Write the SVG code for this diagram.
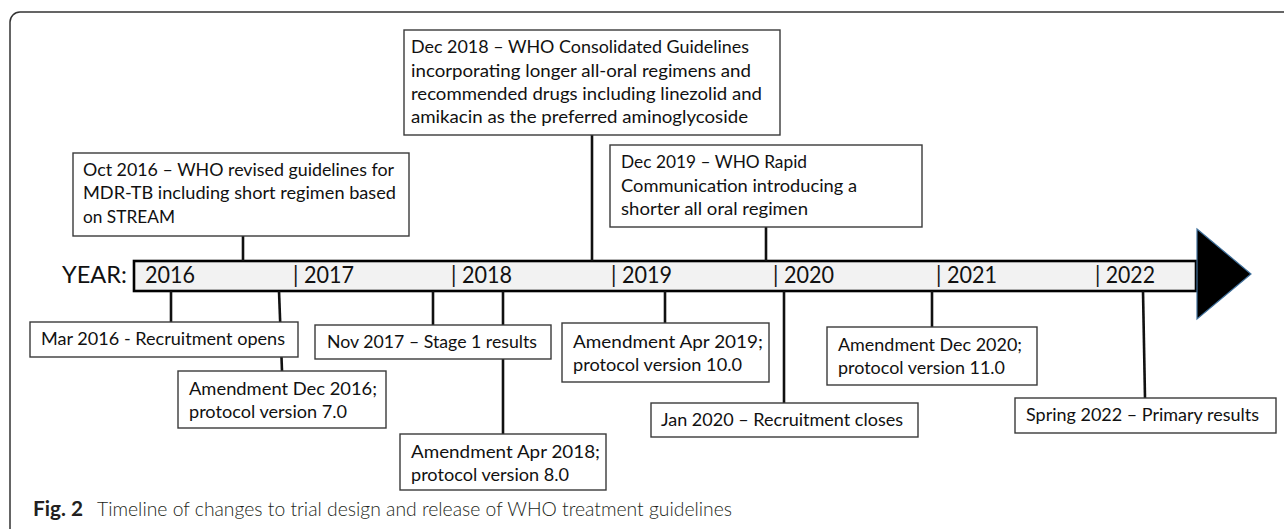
<svg xmlns="http://www.w3.org/2000/svg" width="1284" height="529" viewBox="0 0 1284 529">
<style>
.box{fill:#fff;stroke:#3a3a3a;stroke-width:1.4}
.t{font-family:Lato,"Liberation Sans",sans-serif;font-size:18px;fill:#111}
.yr{font-family:Lato,"Liberation Sans",sans-serif;font-size:23px;fill:#111}
.con{stroke:#111;stroke-width:2.6;fill:none}
.cap{font-family:Lato,"Liberation Sans",sans-serif;font-size:20px;fill:#231f20}
</style>
<rect width="1284" height="529" fill="#fff"/>
<g id="frame"><path d="M10,529 V22 A10,10 0 0 1 20,12 H1284" fill="none" stroke="#333" stroke-width="1.5"/></g>
<g id="timeline">
<rect x="134" y="261" width="1062" height="30" fill="#f2f2f2" stroke="#000" stroke-width="2.6"/>
<polygon points="1197,229 1251,274 1197,319" fill="#000" stroke="#41719c" stroke-width="1.2"/>
<text class="yr" x="62" y="283" textLength="65" lengthAdjust="spacingAndGlyphs" fill="#222">YEAR:</text>
<text class="yr" x="145" y="283" textLength="50" lengthAdjust="spacingAndGlyphs">2016</text>
<text class="yr" x="293" y="283" textLength="61" lengthAdjust="spacingAndGlyphs">| 2017</text>
<text class="yr" x="451" y="283" textLength="61" lengthAdjust="spacingAndGlyphs">| 2018</text>
<text class="yr" x="611" y="283" textLength="61" lengthAdjust="spacingAndGlyphs">| 2019</text>
<text class="yr" x="773" y="283" textLength="61" lengthAdjust="spacingAndGlyphs">| 2020</text>
<text class="yr" x="936" y="283" textLength="61" lengthAdjust="spacingAndGlyphs">| 2021</text>
<text class="yr" x="1095" y="283" textLength="60" lengthAdjust="spacingAndGlyphs">| 2022</text>
</g>
<g id="connectors">
<line class="con" x1="243" y1="236" x2="243" y2="261"/>
<line class="con" x1="592" y1="135" x2="592" y2="261"/>
<line class="con" x1="766" y1="227" x2="766" y2="261"/>
<line class="con" x1="171" y1="291" x2="171" y2="322"/>
<line class="con" x1="279" y1="291" x2="282" y2="371"/>
<line class="con" x1="433" y1="291" x2="433" y2="325"/>
<line class="con" x1="503" y1="291" x2="503" y2="434"/>
<line class="con" x1="665" y1="291" x2="665" y2="323"/>
<line class="con" x1="784" y1="291" x2="784" y2="403"/>
<line class="con" x1="932" y1="291" x2="932" y2="327"/>
<line class="con" x1="1143" y1="291" x2="1145" y2="398"/>
</g>
<g id="oct2016">
<rect class="box" x="73" y="153" width="336" height="83"/>
<text class="t" x="83" y="176" textLength="311" lengthAdjust="spacingAndGlyphs">Oct 2016 – WHO revised guidelines for</text>
<text class="t" x="83" y="199" textLength="313" lengthAdjust="spacingAndGlyphs">MDR-TB including short regimen based</text>
<text class="t" x="83" y="223" textLength="92" lengthAdjust="spacingAndGlyphs">on STREAM</text>
</g>
<g id="dec2018">
<rect class="box" x="404" y="30" width="376" height="105"/>
<text class="t" x="411" y="53" textLength="338" lengthAdjust="spacingAndGlyphs">Dec 2018 – WHO Consolidated Guidelines</text>
<text class="t" x="411" y="77" textLength="340" lengthAdjust="spacingAndGlyphs">incorporating longer all-oral regimens and</text>
<text class="t" x="411" y="100" textLength="351" lengthAdjust="spacingAndGlyphs">recommended drugs including linezolid and</text>
<text class="t" x="411" y="123" textLength="337" lengthAdjust="spacingAndGlyphs">amikacin as the preferred aminoglycoside</text>
</g>
<g id="dec2019">
<rect class="box" x="610" y="145" width="312" height="82"/>
<text class="t" x="621" y="168" textLength="186" lengthAdjust="spacingAndGlyphs">Dec 2019 – WHO Rapid</text>
<text class="t" x="621" y="192" textLength="236" lengthAdjust="spacingAndGlyphs">Communication introducing a</text>
<text class="t" x="621" y="215" textLength="187" lengthAdjust="spacingAndGlyphs">shorter all oral regimen</text>
</g>
<g id="mar2016">
<rect class="box" x="30" y="322" width="268" height="35"/>
<text class="t" x="41" y="345" textLength="244" lengthAdjust="spacingAndGlyphs">Mar 2016 - Recruitment opens</text>
</g>
<g id="dec2016">
<rect class="box" x="178" y="371" width="208" height="57"/>
<text class="t" x="189" y="395" textLength="188" lengthAdjust="spacingAndGlyphs">Amendment Dec 2016;</text>
<text class="t" x="189" y="418" textLength="158" lengthAdjust="spacingAndGlyphs">protocol version 7.0</text>
</g>
<g id="nov2017">
<rect class="box" x="315" y="325" width="236" height="34"/>
<text class="t" x="327" y="348" textLength="210" lengthAdjust="spacingAndGlyphs">Nov 2017 – Stage 1 results</text>
</g>
<g id="apr2018">
<rect class="box" x="400" y="434" width="206" height="56"/>
<text class="t" x="411" y="458" textLength="189" lengthAdjust="spacingAndGlyphs">Amendment Apr 2018;</text>
<text class="t" x="411" y="481" textLength="158" lengthAdjust="spacingAndGlyphs">protocol version 8.0</text>
</g>
<g id="apr2019">
<rect class="box" x="562" y="323" width="207" height="59"/>
<text class="t" x="573" y="348" textLength="190" lengthAdjust="spacingAndGlyphs">Amendment Apr 2019;</text>
<text class="t" x="573" y="371" textLength="169" lengthAdjust="spacingAndGlyphs">protocol version 10.0</text>
</g>
<g id="jan2020">
<rect class="box" x="651" y="403" width="267" height="34"/>
<text class="t" x="661" y="426" textLength="242" lengthAdjust="spacingAndGlyphs">Jan 2020 – Recruitment closes</text>
</g>
<g id="dec2020">
<rect class="box" x="827" y="327" width="210" height="58"/>
<text class="t" x="838" y="351" textLength="184" lengthAdjust="spacingAndGlyphs">Amendment Dec 2020;</text>
<text class="t" x="838" y="374" textLength="167" lengthAdjust="spacingAndGlyphs">protocol version 11.0</text>
</g>
<g id="spring2022">
<rect class="box" x="1015" y="398" width="261" height="35"/>
<text class="t" x="1026" y="421" textLength="233" lengthAdjust="spacingAndGlyphs">Spring 2022 – Primary results</text>
</g>
<g id="caption">
<text class="cap" x="33" y="516"><tspan font-weight="700" textLength="50" lengthAdjust="spacingAndGlyphs">Fig. 2</tspan></text>
<text class="cap" x="97" y="516" font-weight="300" textLength="635" lengthAdjust="spacingAndGlyphs">Timeline of changes to trial design and release of WHO treatment guidelines</text>
</g>
</svg>
